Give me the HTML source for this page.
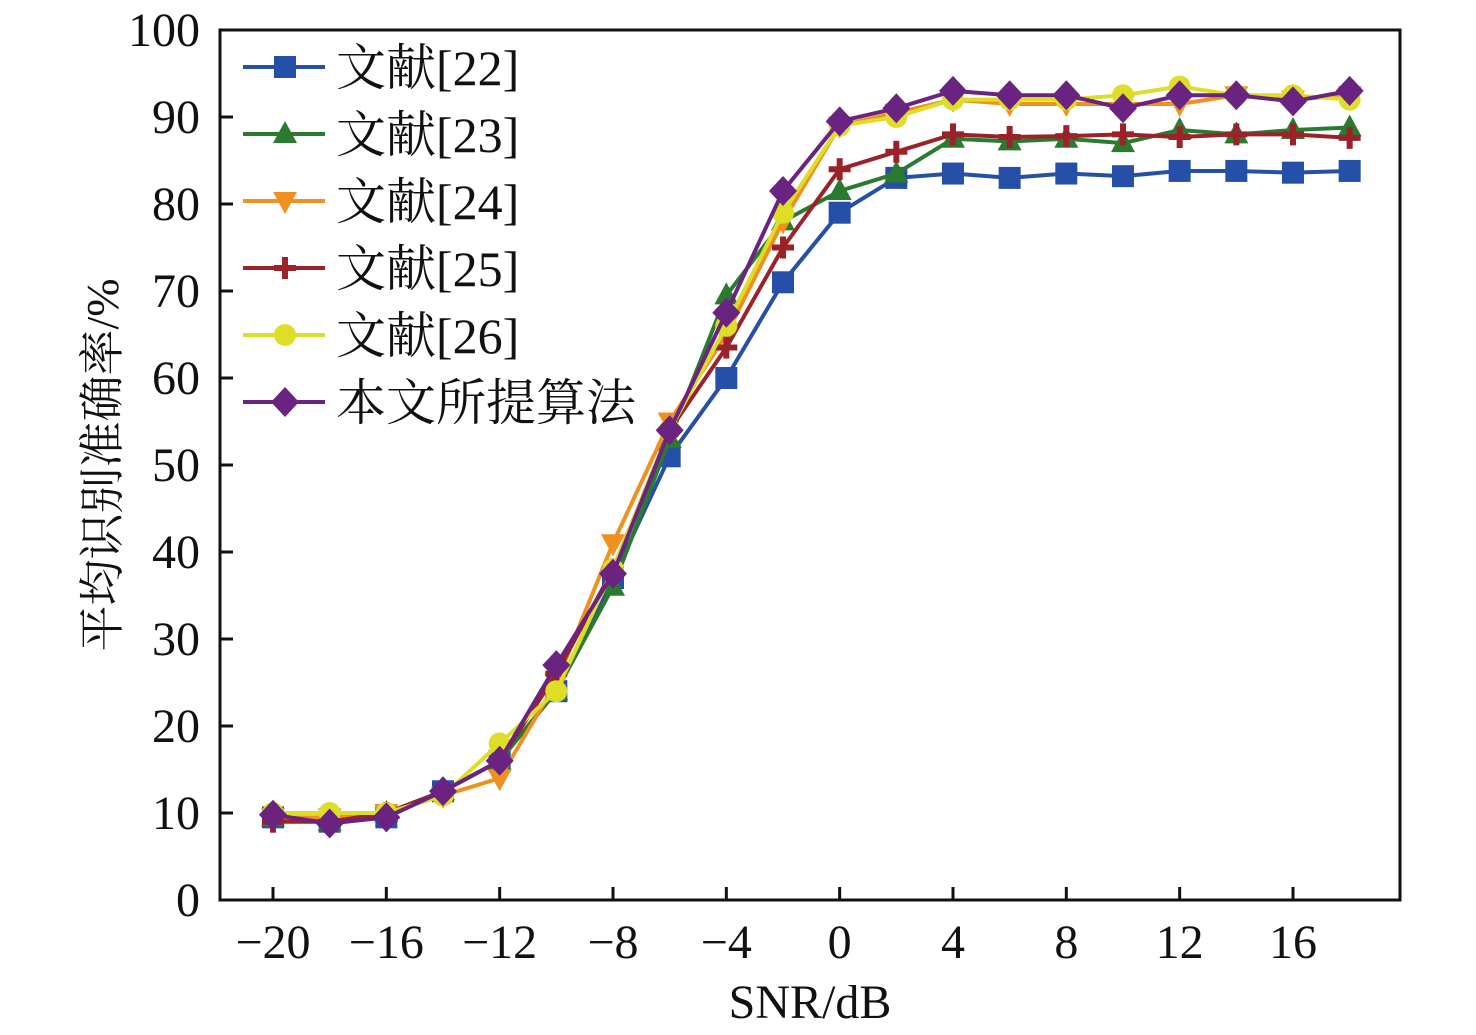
<!DOCTYPE html>
<html><head><meta charset="utf-8"><style>body{margin:0;background:#fff}svg{display:block}text{font-family:"Liberation Serif","Times New Roman","Noto Serif CJK SC",serif;fill:#111}</style></head>
<body>
<svg id="s" width="1476" height="1035" viewBox="0 0 1476 1035" xmlns="http://www.w3.org/2000/svg">
<rect x="220" y="30" width="1180" height="870" fill="none" stroke="#111" stroke-width="3"/>
<g id="ax"></g><g id="data"></g><g id="leg"></g>
<text x="810" y="1018" font-size="48" text-anchor="middle">SNR/dB</text>
<text transform="translate(118,465) rotate(-90)" font-size="46" text-anchor="middle">平均识别准确率/%</text>
</svg>
<script>
const NS="http://www.w3.org/2000/svg";
function el(p,t,a,txt){const e=document.createElementNS(NS,t);for(const k in a)e.setAttribute(k,a[k]);if(txt!==undefined)e.textContent=txt;p.appendChild(e);return e;}
const X=v=>273+(v+20)*28.333, Y=v=>900-8.7*v;
const ax=document.getElementById('ax');
for(let v=0;v<=100;v+=10){el(ax,'line',{x1:220,x2:233,y1:Y(v),y2:Y(v),stroke:'#111','stroke-width':3});el(ax,'text',{x:200,y:Y(v)+16,'font-size':48,'text-anchor':'end'},v);}
for(let v=-20;v<=16;v+=4){el(ax,'line',{x1:X(v),x2:X(v),y1:900,y2:887,stroke:'#111','stroke-width':3});el(ax,'text',{x:X(v),y:958,'font-size':48,'text-anchor':'middle'},(v<0?'−':'')+Math.abs(v));}
const xs=[];for(let v=-20;v<=18;v+=2)xs.push(v);
const S=[
{n:'文献[22]',c:'#2650a8',m:'sq',d:[9.5,9,9.5,12.5,16,24,37,51,60,71,79,83,83.5,83,83.5,83.2,83.8,83.8,83.6,83.8]},
{n:'文献[23]',c:'#2a7a30',m:'tu',d:[9.5,9,10,12.5,16,24,36,53,69.5,78,81.5,83.5,87.5,87.2,87.5,87,88.5,88,88.5,88.8]},
{n:'文献[24]',c:'#f0901e',m:'td',d:[9.5,9.5,10,12,14,25,41,55,65,78,89,90.5,92,91.5,91.5,91.5,91.5,92.5,92,92.5]},
{n:'文献[25]',c:'#9a2228',m:'pl',d:[9,9,10,12.5,16,26,38,54,63.5,75,84,86,88,87.7,87.8,88,87.7,88,88,87.6]},
{n:'文献[26]',c:'#dede28',m:'st',d:[10,10,10,12,18,24,38,54,66,79,89,90,92,92,92,92.5,93.5,92.5,92.5,92]},
{n:'本文所提算法',c:'#6a2380',m:'di',d:[9.8,8.8,9.5,12.5,16,27,37.5,54,67.5,81.5,89.5,91,93,92.5,92.5,91,92.5,92.5,91.8,93]}];
function mk(g,m,x,y,c){
 if(m=='sq')el(g,'rect',{x:x-11,y:y-11,width:22,height:22,fill:c});
 else if(m=='tu')el(g,'polygon',{points:`${x},${y-13} ${x+12},${y+9} ${x-12},${y+9}`,fill:c});
 else if(m=='td')el(g,'polygon',{points:`${x},${y+13} ${x+12},${y-9} ${x-12},${y-9}`,fill:c});
 else if(m=='pl'){el(g,'line',{x1:x-11,x2:x+11,y1:y,y2:y,stroke:c,'stroke-width':6});el(g,'line',{x1:x,x2:x,y1:y-11,y2:y+11,stroke:c,'stroke-width':6});}
 else if(m=='st')el(g,'circle',{cx:x,cy:y,r:11,fill:c});
 else el(g,'polygon',{points:`${x},${y-15} ${x+14},${y} ${x},${y+15} ${x-14},${y}`,fill:c});
}
const dg=document.getElementById('data'),lg=document.getElementById('leg');
S.forEach((s,i)=>{
 el(dg,'polyline',{points:s.d.map((v,j)=>X(xs[j])+','+Y(v)).join(' '),fill:'none',stroke:s.c,'stroke-width':4});
 s.d.forEach((v,j)=>mk(dg,s.m,X(xs[j]),Y(v),s.c));
 const y=67+i*67;
 el(lg,'line',{x1:243,x2:325,y1:y,y2:y,stroke:s.c,'stroke-width':4});mk(lg,s.m,285,y,s.c);
 el(lg,'text',{x:336,y:y+18,'font-size':50},s.n);
});
</script>
</body></html>
